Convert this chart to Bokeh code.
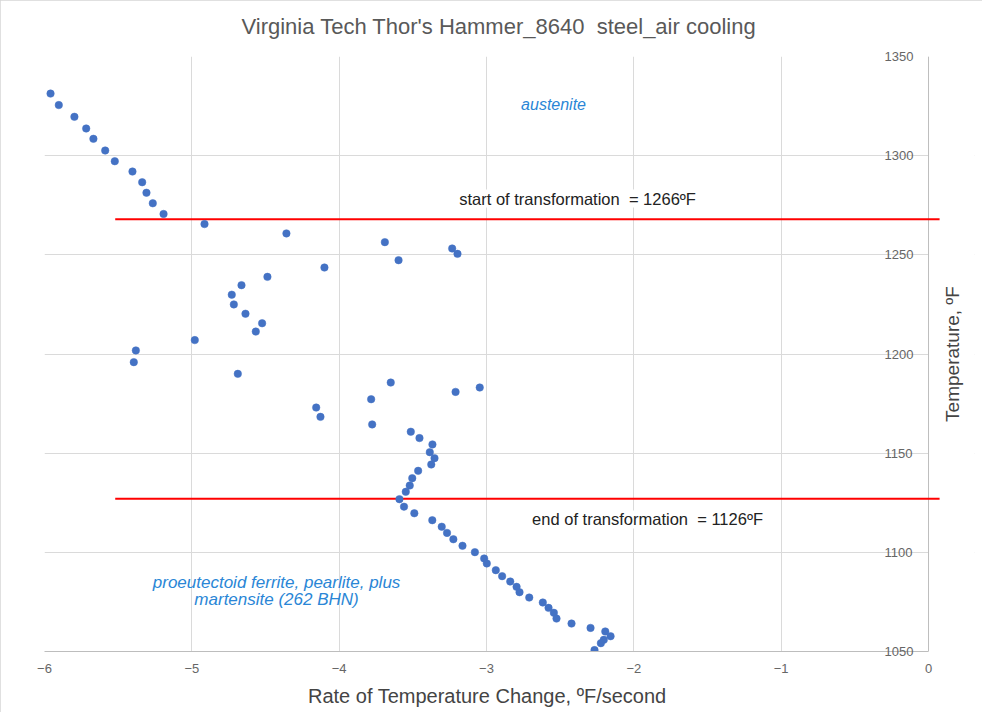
import math
from bokeh.plotting import figure
from bokeh.models import Label, Range1d, FixedTicker, Span, BoxAnnotation
from bokeh.embed import file_html
from bokeh.resources import INLINE

# ---- data ----
rate = [-5.959, -5.903, -5.797, -5.717, -5.668, -5.588, -5.523, -5.403, -5.337, -5.308,
        -5.265, -5.192, -4.914, -4.358, -3.690, -3.233, -3.197, -3.597, -4.100, -4.487,
        -4.663, -4.729, -4.715, -4.636, -4.523, -4.566, -4.980, -5.380, -5.394, -4.688,
        -3.650, -3.046, -3.210, -3.783, -4.156, -4.127, -3.776, -3.514, -3.455, -3.367,
        -3.385, -3.353, -3.375, -3.464, -3.504, -3.521, -3.548, -3.591, -3.560, -3.490,
        -3.368, -3.304, -3.268, -3.225, -3.163, -3.079, -3.016, -2.998, -2.937, -2.894,
        -2.839, -2.796, -2.776, -2.710, -2.618, -2.579, -2.543, -2.525, -2.423, -2.294,
        -2.194, -2.158, -2.204, -2.224, -2.267]
temp = [1331.3, 1325.5, 1319.6, 1313.7, 1308.5, 1302.6, 1297.2, 1292.0, 1286.6, 1281.3,
        1276.0, 1270.6, 1265.5, 1260.8, 1256.4, 1253.2, 1250.5, 1247.3, 1243.6, 1238.9,
        1234.7, 1229.9, 1225.0, 1220.3, 1215.5, 1211.3, 1207.0, 1201.8, 1195.9, 1190.0,
        1185.6, 1183.1, 1180.9, 1177.2, 1173.0, 1168.3, 1164.5, 1160.8, 1157.6, 1154.4,
        1150.5, 1147.5, 1144.3, 1141.1, 1137.4, 1133.7, 1130.5, 1126.8, 1123.0, 1119.7,
        1116.2, 1112.9, 1109.8, 1106.6, 1103.3, 1100.1, 1096.9, 1094.4, 1091.0, 1088.0,
        1085.3, 1082.6, 1079.9, 1077.2, 1074.7, 1072.0, 1069.5, 1066.6, 1064.1, 1061.9,
        1060.1, 1057.7, 1055.9, 1054.2, 1050.7]

# transformation lines (they run slightly past the temperature axis, as in the original)
line_temp = [1268, 1127]
line_x_start = [-5.52, -5.52]
line_x_end = [0.075, 0.075]

x_ticks = [-6, -5, -4, -3, -2, -1, 0]
y_ticks = [1050, 1100, 1150, 1200, 1250, 1300, 1350]
x_min, x_axis_pos, x_max = -6, 0, 0.312   # the temperature axis crosses at x = 0

NB = "\u00a0"
title_text = "Virginia Tech Thor's Hammer_8640" + NB + " steel_air cooling"
x_title = "Rate of Temperature Change, \u00baF/second"
y_title = "Temperature, \u00baF"
start_label = "start of transformation" + NB + " = 1266\u00baF"
end_label = "end of transformation" + NB + " = 1126\u00baF"
phase_top = "austenite"
phase_bottom = ["proeutectoid ferrite, pearlite, plus", "martensite (262 BHN)"]

FONT = "Liberation Sans"
BLUE_TXT = "#2a86d6"
AXIS_GRAY = "#bdbdbd"

p = figure(width=982, height=712, output_backend="svg", toolbar_location=None,
           x_range=Range1d(x_min, x_max), y_range=Range1d(1050, 1350),
           y_axis_location="right",
           min_border_left=44, min_border_right=8, min_border_top=56, min_border_bottom=61)
p.styles = {"outline": "1px solid #d6d6d6", "outline-offset": "-1px"}

p.title.text = title_text
p.title.text_font = FONT
p.title.text_font_size = "22px"
p.title.text_font_style = "normal"
p.title.text_color = "#595959"
p.title.align = "left"
p.title.offset = 197
p.title.standoff = 0
p.title.padding = dict(left=0, right=0, top=0, bottom=18)

p.outline_line_color = None
p.background_fill_color = "white"
p.border_fill_color = "white"

for g in (p.xgrid, p.ygrid):
    g.grid_line_color = "#dadada"
    g.grid_line_width = 1
p.xgrid.ticker = FixedTicker(ticks=x_ticks)
p.ygrid.ticker = FixedTicker(ticks=y_ticks)

xa = p.xaxis[0]
xa.ticker = FixedTicker(ticks=x_ticks)
xa.bounds = (x_min, x_axis_pos)
# trailing no-break spaces centre the title under the -6..0 part of the axis
xa.axis_label = x_title + NB * 8
xa.axis_label_text_font = FONT
xa.axis_label_text_font_size = "20px"
xa.axis_label_text_font_style = "normal"
xa.axis_label_text_color = "#444444"
xa.axis_label_standoff = 9
xa.major_label_text_font = FONT
xa.major_label_text_font_size = "13px"
xa.major_label_text_color = "#666666"
xa.major_label_standoff = 12
xa.major_tick_out = 0
xa.major_tick_in = 0
xa.minor_tick_out = 0
xa.minor_tick_in = 0
xa.axis_line_color = AXIS_GRAY

ya = p.yaxis[0]
ya.ticker = FixedTicker(ticks=y_ticks)
ya.major_label_text_font = FONT
ya.major_label_text_font_size = "13px"
ya.major_label_text_color = "#666666"
ya.major_label_standoff = -90
ya.major_tick_out = 0
ya.major_tick_in = 0
ya.minor_tick_out = 0
ya.minor_tick_in = 0
ya.axis_line_color = None

# blank out the grid right of the temperature axis, then draw that axis line at x = 0
p.add_layout(BoxAnnotation(left=x_axis_pos, fill_color="white", fill_alpha=1.0,
                           line_color=None, level="underlay"))
p.add_layout(Span(location=x_axis_pos, dimension="height", line_color=AXIS_GRAY,
                  line_width=1, level="underlay"))

# red transformation lines
p.segment(x0=line_x_start, y0=line_temp, x1=line_x_end, y1=line_temp,
          line_color="#ff0000", line_width=2)

# data points
p.scatter(rate, temp, size=7.5, fill_color="#4472c4", line_color="#4472c4", line_width=0.5)

# temperature axis title (reads bottom-to-top, right of the axis line)
p.add_layout(Label(x=0.163, y=1200, text=y_title, angle=math.pi / 2,
                   text_font=FONT, text_font_size="19px", text_color="#444444",
                   text_align="center", text_baseline="middle"))

# annotations
lab_kw = dict(text_font=FONT, text_align="center", text_baseline="middle")
p.add_layout(Label(x=-2.382, y=1278.4, text=start_label, text_font_size="16.5px",
                   text_color="#222222", background_fill_color="white", **lab_kw))
p.add_layout(Label(x=-1.907, y=1116.6, text=end_label, text_font_size="16.5px",
                   text_color="#222222", background_fill_color="white", **lab_kw))
p.add_layout(Label(x=-2.545, y=1325.8, text=phase_top, text_font_size="16px",
                   text_font_style="italic", text_color=BLUE_TXT, **lab_kw))
p.add_layout(Label(x=-4.425, y=1084.8, text=phase_bottom[0], text_font_size="17px",
                   text_font_style="italic", text_color=BLUE_TXT, **lab_kw))
p.add_layout(Label(x=-4.425, y=1076.2, text=phase_bottom[1], text_font_size="17px",
                   text_font_style="italic", text_color=BLUE_TXT, **lab_kw))

open("out.html", "w").write(file_html(p, INLINE))
